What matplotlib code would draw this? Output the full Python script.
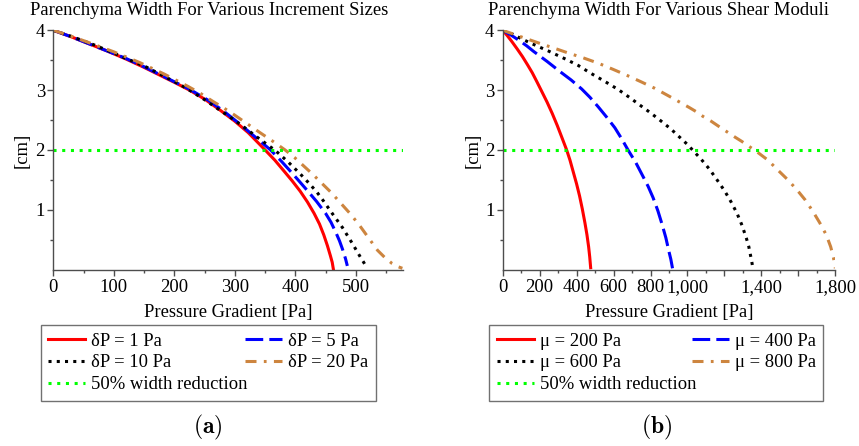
import matplotlib
matplotlib.use("Agg")
import matplotlib.pyplot as plt
from matplotlib.ticker import FixedLocator, FuncFormatter, MultipleLocator

plt.rcParams['font.family'] = ['Liberation Serif', 'DejaVu Serif']
plt.rcParams['mathtext.fontset'] = 'cm'

# panel (a): width vs pressure gradient for several increment sizes
p_inc1 = [0, 30, 60, 90, 120, 150, 176, 200, 225, 250, 275, 300, 322, 349, 366, 381, 395, 408, 420, 431,
          440, 447, 453, 458, 461, 463]
w_inc1 = [4.00, 3.89, 3.77, 3.65, 3.52, 3.38, 3.25, 3.13, 3.00, 2.85, 2.67, 2.48, 2.29, 2.01, 1.83, 1.65,
          1.48, 1.31, 1.13, 0.94, 0.76, 0.58, 0.40, 0.23, 0.12, 0.00]
p_inc5 = [0, 30, 60, 90, 120, 150, 176, 200, 226, 256, 280, 305, 325, 359, 377, 394, 407, 419, 435, 450,
          459, 467, 473, 478, 483, 486]
w_inc5 = [4.00, 3.89, 3.77, 3.65, 3.53, 3.39, 3.26, 3.14, 3.01, 2.83, 2.66, 2.46, 2.29, 2.00, 1.81, 1.62,
          1.47, 1.33, 1.14, 0.94, 0.79, 0.62, 0.48, 0.34, 0.18, 0.06]
p_inc10 = [0, 35, 69, 95, 120, 155, 187, 210, 228, 250, 273, 292, 310, 340, 367, 388, 408, 422, 436, 447,
           458, 468, 478, 486, 494, 501, 508, 513, 517]
w_inc10 = [4.00, 3.88, 3.75, 3.64, 3.53, 3.38, 3.21, 3.09, 2.98, 2.84, 2.68, 2.55, 2.42, 2.19, 1.99, 1.80,
           1.60, 1.45, 1.29, 1.14, 0.98, 0.84, 0.70, 0.57, 0.44, 0.32, 0.20, 0.12, 0.05]
p_inc20 = [0, 30, 60, 100, 143, 183, 223, 244, 264, 282, 300, 320, 340, 362, 383, 399, 414, 429, 444, 460,
           475, 491, 506, 521, 536, 548, 560, 569, 577]
w_inc20 = [4.00, 3.90, 3.79, 3.64, 3.46, 3.27, 3.06, 2.94, 2.81, 2.70, 2.58, 2.44, 2.30, 2.15, 2.00, 1.87,
           1.73, 1.59, 1.44, 1.28, 1.11, 0.93, 0.74, 0.53, 0.32, 0.20, 0.10, 0.05, 0.02]

# panel (b): width vs pressure gradient for several shear moduli
p_mu200 = [0, 25, 50, 78, 107, 135, 160, 185, 211, 240, 268, 295, 320, 346, 364, 382, 400, 416, 431, 445,
           456, 465, 471, 476]
w_mu200 = [4.00, 3.91, 3.81, 3.69, 3.56, 3.42, 3.29, 3.14, 2.98, 2.80, 2.61, 2.41, 2.21, 2.00, 1.83, 1.63,
           1.43, 1.23, 1.01, 0.78, 0.58, 0.38, 0.21, 0.03]
p_mu400 = [0, 40, 94, 130, 166, 240, 310, 370, 427, 472, 517, 562, 607, 643, 678, 720, 757, 787, 814, 840,
           863, 883, 899, 910, 919]
w_mu400 = [4.00, 3.93, 3.82, 3.74, 3.65, 3.48, 3.31, 3.17, 3.02, 2.88, 2.72, 2.55, 2.37, 2.19, 2.00, 1.79,
           1.57, 1.39, 1.20, 0.98, 0.75, 0.53, 0.31, 0.17, 0.02]
p_mu600 = [0, 50, 94, 148, 250, 346, 410, 472, 550, 625, 685, 742, 800, 854, 910, 962, 1000, 1027, 1075,
           1121, 1162, 1202, 1236, 1268, 1295, 1319, 1332, 1341, 1348, 1353]
w_mu600 = [4.00, 3.94, 3.87, 3.79, 3.65, 3.51, 3.41, 3.29, 3.15, 3.01, 2.88, 2.75, 2.62, 2.49, 2.35, 2.20,
           2.09, 2.00, 1.84, 1.67, 1.49, 1.31, 1.13, 0.94, 0.74, 0.52, 0.38, 0.24, 0.13, 0.04]
p_mu800 = [0, 100, 202, 280, 355, 435, 517, 595, 670, 748, 823, 870, 917, 963, 1009, 1047, 1084, 1128, 1171,
           1215, 1259, 1295, 1328, 1375, 1435, 1490, 1543, 1593, 1638, 1679, 1716, 1751, 1775, 1790, 1800]
w_mu800 = [4.00, 3.89, 3.78, 3.70, 3.62, 3.54, 3.45, 3.35, 3.25, 3.14, 3.03, 2.95, 2.87, 2.79, 2.71, 2.64,
           2.56, 2.48, 2.39, 2.30, 2.21, 2.14, 2.07, 1.97, 1.83, 1.66, 1.50, 1.33, 1.16, 0.97, 0.78, 0.58,
           0.38, 0.20, 0.02]

half_width = 2.0

labels_a = ['δP = 1 Pa', 'δP = 5 Pa', 'δP = 10 Pa', 'δP = 20 Pa']
labels_b = ['μ = 200 Pa', 'μ = 400 Pa', 'μ = 600 Pa', 'μ = 800 Pa']

FS = 13.4
lw = 2.2
styles = [
    dict(color='#ff0000', linestyle='-'),
    dict(color='#0000ff', linestyle=(0, (5.8, 2.0))),
    dict(color='black', linestyle=(0, (1.0, 1.7))),
    dict(color='#cd853f', linestyle=(0, (3.6, 2.4, 0.9, 2.4))),
]
green = dict(color='#00ff00', linestyle=(0, (1.0, 1.85)))

W, H = 859, 446
fig = plt.figure(figsize=(W / 100, H / 100), dpi=100)
ax1 = fig.add_axes([53.3 / W, 1 - 269.5 / H, 349.7 / W, 239.2 / H])
ax2 = fig.add_axes([502.7 / W, 1 - 269.5 / H, 332.6 / W, 239.2 / H])


def draw_panel(ax, series, labels, xmax):
    handles = []
    for (p, w), lab, st in zip(series, labels, styles):
        h, = ax.plot(p, w, lw=lw, label=lab, solid_joinstyle='round', **st)
        handles.append(h)
    g = ax.axhline(half_width, lw=lw, label='50% width reduction', **green)
    ax.set_xlim(0, xmax)
    ax.set_ylim(0, 4)
    for s in ['top', 'right']:
        ax.spines[s].set_visible(False)
    for s in ['left', 'bottom']:
        ax.spines[s].set_color('0.3')
        ax.spines[s].set_linewidth(1.0)
    ax.yaxis.set_major_locator(FixedLocator([1, 2, 3, 4]))
    ax.yaxis.set_minor_locator(FixedLocator([0.5, 1.5, 2.5, 3.5]))
    ax.tick_params(which='major', direction='out', length=4, width=1, color='0.3',
                   labelsize=FS, pad=2)
    ax.tick_params(which='minor', direction='out', length=2.4, width=1, color='0.3')
    ax.tick_params(axis='x', which='major', pad=3)
    ax.set_ylabel('[cm]', fontsize=FS, va='center')
    ax.yaxis.set_label_coords(-0.09, 0.5)
    ax.set_xlabel('Pressure Gradient [Pa]', fontsize=FS, va='center')
    ax.xaxis.set_label_coords(0.5, -0.178)
    return handles, g


series_a = [(p_inc1, w_inc1), (p_inc5, w_inc5), (p_inc10, w_inc10), (p_inc20, w_inc20)]
series_b = [(p_mu200, w_mu200), (p_mu400, w_mu400), (p_mu600, w_mu600), (p_mu800, w_mu800)]

h_a, g_a = draw_panel(ax1, series_a, labels_a, 578)
h_b, g_b = draw_panel(ax2, series_b, labels_b, 1800)

ax1.xaxis.set_major_locator(MultipleLocator(100))
ax1.xaxis.set_minor_locator(MultipleLocator(50))

ax2.xaxis.set_major_locator(MultipleLocator(200))
ax2.xaxis.set_minor_locator(MultipleLocator(100))
ax2.xaxis.set_major_formatter(FuncFormatter(
    lambda v, pos: '' if int(round(v)) in (1200, 1600) else f'{int(round(v)):,}'))

fig.text(209 / W, 1 - 15 / H, 'Parenchyma Width For Various Increment Sizes',
         ha='center', va='baseline', fontsize=FS)
fig.text(658.5 / W, 1 - 15 / H, 'Parenchyma Width For Various Shear Moduli',
         ha='center', va='baseline', fontsize=FS)


def add_legend(handles, g, x0, x1):
    order = [handles[0], handles[2], g, handles[1], handles[3]]
    leg = fig.legend(order, [h.get_label() for h in order], ncol=2,
                     loc='upper left', mode='expand',
                     bbox_to_anchor=(x0 / W, 1 - 397.3 / H, (x1 - x0) / W, 72.0 / H),
                     borderaxespad=0, fontsize=FS, frameon=True, fancybox=False,
                     edgecolor='0.3', handlelength=2.0, handletextpad=0.3,
                     labelspacing=0.25, columnspacing=0.5, borderpad=0.4)
    leg.get_frame().set_linewidth(1.0)
    return leg


add_legend(h_a, g_a, 40.7, 375.7)
add_legend(h_b, g_b, 489.3, 823.3)

fig.text(208 / W, 1 - 427 / H, r'$\mathbf{(a)}$', ha='center', va='center', fontsize=17)
fig.text(656.7 / W, 1 - 427 / H, r'$\mathbf{(b)}$', ha='center', va='center', fontsize=17)

fig.savefig('out.png', dpi=100)
